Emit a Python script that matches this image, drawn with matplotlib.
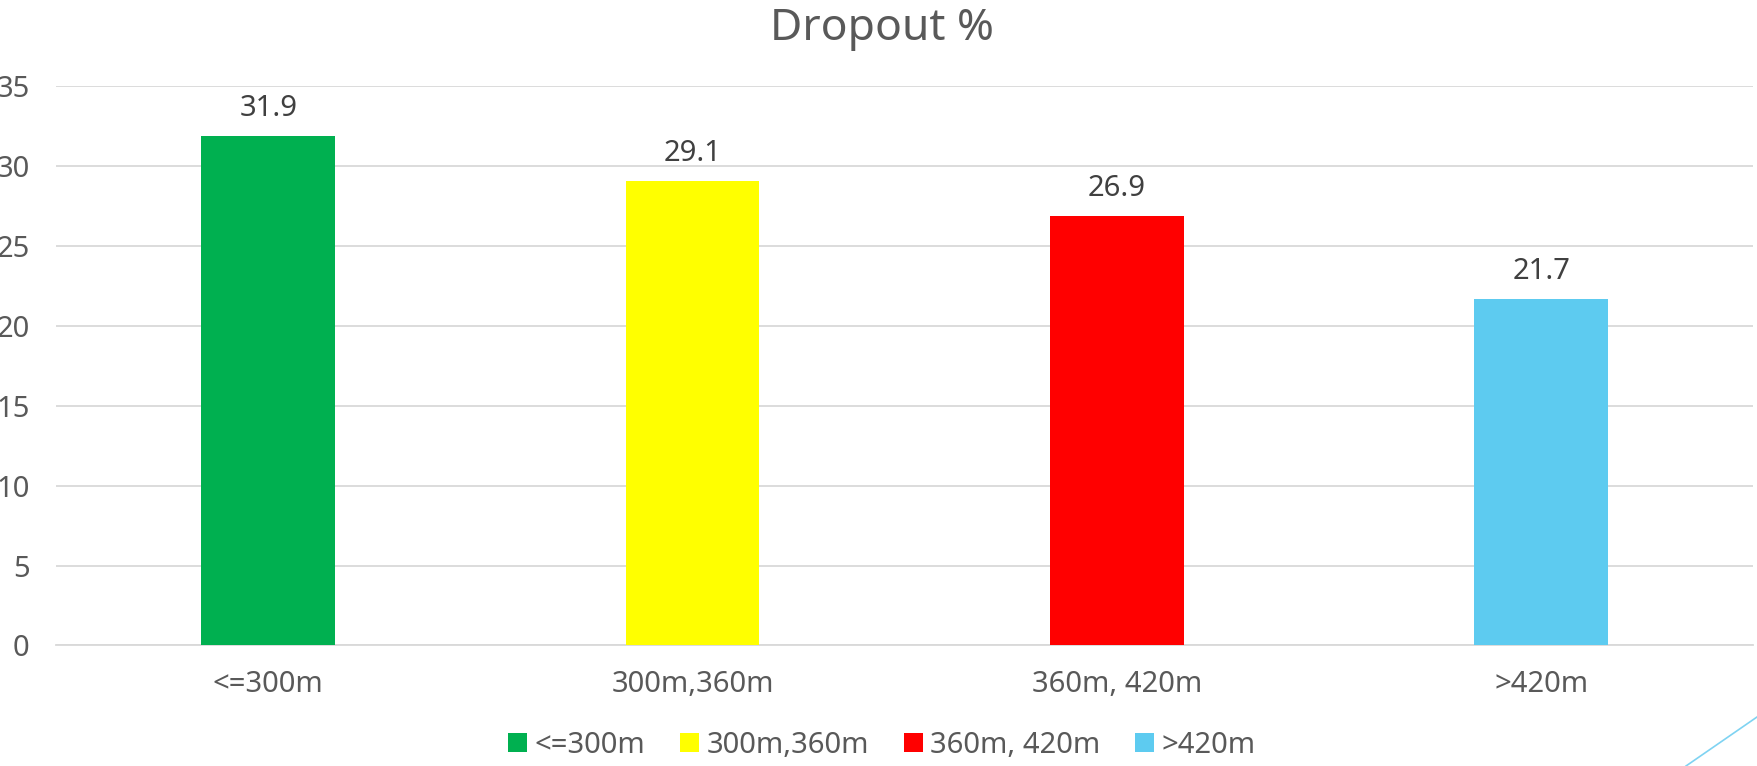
import matplotlib
matplotlib.use("Agg")
import matplotlib.pyplot as plt
from matplotlib.lines import Line2D
from matplotlib.patches import Patch

categories = ["<=300m", "300m,360m", "360m, 420m", ">420m"]
dropout = [31.9, 29.1, 26.9, 21.7]
colors = ["#00B050", "#FFFF00", "#FF0000", "#5DCBF0"]

TEXT = "#595959"
plt.rcParams["font.family"] = ["Noto Sans", "DejaVu Sans"]

fig = plt.figure(figsize=(17.57, 7.66), dpi=100)
ax = fig.add_axes([0.0319, 0.1574, 0.966, 0.7299])

x = range(len(categories))
ax.bar(x, dropout, color=colors, width=0.315, zorder=3)

for xi, v in zip(x, dropout):
    ax.text(xi, v + 0.8, f"{v:.1f}", ha="center", va="bottom", fontsize=21, color="#404040")

ax.set_xlim(-0.5, 3.5)
ax.set_ylim(0, 35)
ax.set_yticks(range(0, 36, 5))
ax.set_xticks(list(x))
ax.set_xticklabels(categories, fontsize=21, color=TEXT)
ax.tick_params(axis="y", labelsize=21, labelcolor=TEXT, length=0, pad=19)
ax.tick_params(axis="x", length=0, pad=18)
ax.grid(axis="y", color="#D9D9D9", linewidth=1.3, zorder=0)
for side in ("top", "right", "left"):
    ax.spines[side].set_visible(False)
ax.spines["bottom"].set_color("#D9D9D9")
ax.spines["bottom"].set_linewidth(1.3)

fig.text(0.502, 0.962, "Dropout %", ha="center", va="center", fontsize=32, color=TEXT)

handles = [Patch(facecolor=c, label=l) for c, l in zip(colors, categories)]
fig.legend(handles=handles, loc="center", bbox_to_anchor=(0.502, 0.027), ncol=4,
           frameon=False, fontsize=21, labelcolor=TEXT, handlelength=0.65,
           handleheight=0.65, handletextpad=0.25, columnspacing=1.2)

# slide decoration in the corner
fig.add_artist(Line2D([1686 / 1757, 1.0], [0.0, 49 / 766], transform=fig.transFigure,
                      color="#7FD3F2", linewidth=1.2))

fig.savefig("out.png", dpi=100)
